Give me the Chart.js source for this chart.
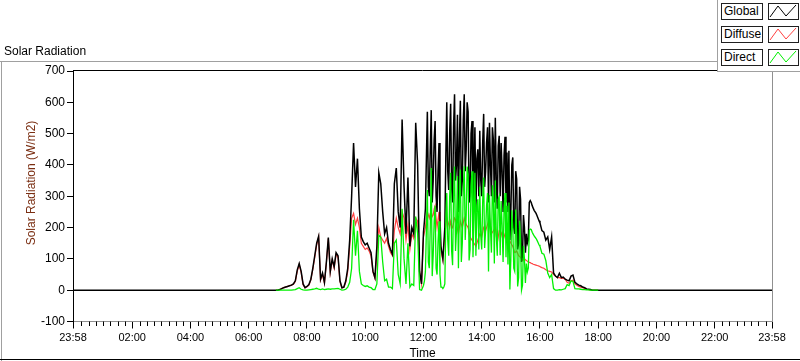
<!DOCTYPE html>
<html>
<head>
<meta charset="utf-8">
<script src="https://cdn.jsdelivr.net/npm/chart.js@4/dist/chart.umd.min.js"></script>
<style>
  html, body { margin:0; padding:0; background:#fff; }
  #wrap { position:relative; width:800px; height:361px; overflow:hidden; background:#fff; font-family:"Liberation Sans", Arial, sans-serif; }
  #c { position:absolute; left:0; top:0; }
  .abs { position:absolute; }
  .hline { position:absolute; height:1px; }
  .vline { position:absolute; width:1px; }
  #title { left:4px; top:44px; font-size:12px; line-height:14px; color:#000; white-space:nowrap; }
  #ytitle { left:-69px; top:176px; width:200px; text-align:center; font-size:12px; line-height:14px; color:#7a2e12; transform:rotate(-90deg); transform-origin:100px 7px; white-space:nowrap; }
  #legend { left:717px; top:0; width:83px; height:72px; background:#fff; border-left:1px solid #a0a0a0; border-bottom:1px solid #a0a0a0; box-sizing:border-box; }
  .lname { position:absolute; left:3px; width:42px; height:17px; border:1px solid #202020; box-sizing:border-box; font-size:12px; line-height:15px; padding-left:2px; color:#000; white-space:nowrap; background:#fff; }
  .lsample { position:absolute; left:50px; width:31px; height:17px; border:1px solid #202020; box-sizing:border-box; background:#fff; }
  .lsample svg { position:absolute; left:0; top:0; }
</style>
</head>
<body>
<div id="wrap">
  <canvas id="c" width="800" height="361"></canvas>
  <div class="hline" style="left:0;top:61px;width:717px;background:#a0a0a0"></div>
  <div class="vline" style="left:1px;top:61px;height:300px;background:#a0a0a0"></div>
  <div class="hline" style="left:0;top:359px;width:800px;background:#000"></div>
  <div id="title" class="abs">Solar Radiation</div>
  <div id="ytitle" class="abs">Solar Radiation (W/m2)</div>
  <div id="legend" class="abs"></div>
</div>
<script>
// ---------------- DATA ----------------
const seriesNames = ["Global", "Diffuse", "Direct"];
const seriesColors = ["#000000", "#ff4040", "#00f000"];
// sampling: [start minute of day, step minutes, count]
// 06:56-11:56 every 4 min, 12:00-15:58 every 2 min, 16:00-18:00 every 4 min
const sampleSegments = [[416, 4, 76], [720, 2, 120], [960, 4, 31]];

const globalW = [
  // 06:56 - 11:56
  0,0,2,5,8,10,12,14,16,20,
  30,65,85,60,20,8,12,18,35,70,
  110,150,172,35,55,25,90,168,60,100,
  75,120,110,30,8,10,30,70,160,300,
  470,330,420,260,170,155,145,150,135,120,
  60,40,140,375,340,250,180,200,150,130,
  115,340,390,250,200,545,330,180,360,140,
  200,180,535,400,60,20,
  // 12:00 - 15:58
  185,220,260,420,570,330,300,450,575,280,
  350,480,540,300,250,380,470,230,140,120,
  100,150,200,420,600,380,320,500,595,330,
  280,520,626,350,400,560,250,480,605,300,
  350,540,626,380,450,600,570,280,300,500,
  540,260,380,520,250,420,450,300,509,350,
  300,470,563,330,380,470,520,280,535,400,
  300,520,480,280,551,350,260,460,493,300,
  470,380,250,430,490,280,440,250,445,160,
  250,400,424,200,180,380,355,130,150,330,
  290,90,110,240,200,120,180,150,160,280,
  286,280,270,262,255,250,245,238,230,222,
  // 16:00 - 18:00
  215,190,185,160,
  170,130,170,55,45,40,54,40,42,35,
  32,30,45,48,25,20,16,14,10,8,
  4,3,2,0,0,0,0
];
const diffuseW = [
  0,0,2,5,8,10,12,14,16,19,
  28,60,82,57,17,7,11,16,33,66,
  105,145,170,32,50,22,86,165,56,96,
  70,115,105,27,7,9,26,60,140,230,
  245,210,230,200,150,140,130,135,125,110,
  58,38,120,200,170,160,150,165,140,120,
  110,190,230,200,180,250,230,160,210,130,
  180,165,230,220,58,20,
  170,185,200,230,250,240,230,245,250,235,
  240,260,270,230,200,225,250,180,130,110,
  95,140,180,205,230,220,210,200,220,205,
  200,215,230,225,210,195,180,200,220,210,
  200,215,230,220,210,205,200,185,170,165,
  160,155,150,145,140,150,160,170,180,175,
  170,185,200,195,190,200,210,220,230,205,
  180,185,190,195,200,175,150,170,190,188,
  185,172,160,170,180,175,170,168,165,158,
  150,145,140,130,120,122,125,118,110,108,
  105,100,95,98,100,97,95,92,90,89,
  88,86,85,83,82,81,80,79,78,77,
  75,72,70,65,
  62,60,58,50,45,40,40,38,38,35,
  25,22,30,32,20,16,12,10,8,6,
  3,2,1,0,0,0,0
];
const directW = [
  0,0,0,0,0,0,0,0,0,1,
  2,5,8,3,1,0,0,1,2,3,
  4,6,3,2,4,2,3,4,3,4,
  4,5,6,3,0,1,3,10,25,70,
  225,110,190,60,20,15,12,14,10,8,
  2,2,20,175,170,90,30,35,10,10,
  5,150,160,50,20,260,100,20,150,10,
  20,15,235,180,2,0,
  15,30,60,190,320,90,70,200,390,45,
  110,220,270,70,50,155,220,50,10,10,
  5,10,20,215,310,160,110,300,375,125,
  80,305,395,125,190,365,70,280,385,90,
  150,325,396,160,240,395,370,95,130,335,
  380,105,230,375,110,270,290,130,330,175,
  130,285,360,135,190,270,310,60,305,195,
  120,335,290,85,350,175,110,290,300,112,
  285,208,90,260,310,105,270,82,280,2,
  100,255,200,70,60,258,180,12,40,222,
  160,0,15,142,100,23,85,58,70,191,
  195,194,185,179,173,169,165,159,152,145,
  140,118,115,95,
  55,40,50,5,0,0,2,1,3,5,
  18,15,30,28,5,4,4,3,2,2,
  1,1,0,0,0,0,0
];
const axisMinH = -2/60;        // 23:58 previous day
const axisMaxH = 24 - 2/60;    // 23:58
const majorTickHours = [2,4,6,8,10,12,14,16,18,20,22];
const yMin = -100, yMax = 700, yStep = 100;

// ---------------- BUILD ----------------
const sampleHours = [];
sampleSegments.forEach(([s, st, n]) => { for (let k = 0; k < n; k++) sampleHours.push((s + k*st)/60); });
function toPoints(arr){ return arr.map((v,i)=>({x:sampleHours[i], y:v})); }
const globalPts = [{x:axisMinH,y:0}].concat(toPoints(globalW), [{x:axisMaxH,y:0}]);
const diffusePts = toPoints(diffuseW);
const directPts = toPoints(directW);

function fmtHM(h){
  let m = Math.round(h*60);
  if (m < 0) m += 1440;
  const hh = Math.floor(m/60) % 24, mm = m % 60;
  return String(hh).padStart(2,'0') + ':' + String(mm).padStart(2,'0');
}

const framePlugin = {
  id:'frame',
  afterDraw(chart){
    const {ctx, chartArea:a, scales} = chart;
    const x = scales.x;
    ctx.save();
    ctx.lineWidth = 1;
    ctx.strokeStyle = '#000';
    ctx.beginPath(); ctx.moveTo(a.left, Math.round(a.top)-0.5); ctx.lineTo(a.right, Math.round(a.top)-0.5); ctx.stroke();
    ctx.strokeStyle = '#909090';
    ctx.beginPath(); ctx.moveTo(Math.round(a.right)+0.5, a.top); ctx.lineTo(Math.round(a.right)+0.5, a.bottom); ctx.stroke();
    ctx.strokeStyle = '#000';
    ctx.beginPath();
    for (let m = 15; m < 1440; m += 15){
      if (m % 120 === 0) continue;
      const px = Math.round(x.getPixelForValue(m/60)) + 0.5;
      ctx.moveTo(px, a.bottom); ctx.lineTo(px, a.bottom + 4.5);
    }
    ctx.stroke();
    ctx.restore();
  }
};

const pts = [globalPts, diffusePts, directPts];
const drawOrder = [2, 3, 1]; // Direct on top, then Global, Diffuse underneath
const lineWidths = [1.5, 1.2, 1.3];
new Chart(document.getElementById('c'), {
  type:'line',
  data:{
    datasets: seriesNames.map((n,i)=>({
      label:n, data:pts[i], borderColor:seriesColors[i], backgroundColor:seriesColors[i],
      borderWidth:lineWidths[i], pointRadius:0, tension:0, fill:false, order:drawOrder[i]
    }))
  },
  options:{
    responsive:false, animation:false, devicePixelRatio:1,
    layout:{ padding:{ left:0, right:28, top:71, bottom:0 } },
    plugins:{ legend:{display:false}, tooltip:{enabled:false}, title:{display:false} },
    scales:{
      x:{
        type:'linear', min:axisMinH, max:axisMaxH,
        afterBuildTicks(s){ s.ticks = [axisMinH].concat(majorTickHours, [axisMaxH]).map(v=>({value:v})); },
        afterFit(s){ s.height = 39.5; },
        ticks:{ autoSkip:false, maxRotation:0, minRotation:0, padding:3, color:'#000',
          font:{family:'"Liberation Sans", Arial, sans-serif', size:11},
          callback:(v)=>fmtHM(v) },
        grid:{ drawOnChartArea:false, drawTicks:true, tickLength:7, tickColor:'#000' },
        border:{ display:true, color:'#909090', width:1 },
        title:{ display:true, text:'Time', color:'#000', padding:{top:0,bottom:0},
          font:{family:'"Liberation Sans", Arial, sans-serif', size:12} }
      },
      y:{
        type:'linear', min:yMin, max:yMax,
        afterFit(s){ s.width = 73; },
        ticks:{ stepSize:yStep, padding:2, color:'#000',
          font:{family:'"Liberation Sans", Arial, sans-serif', size:12} },
        grid:{ drawOnChartArea:false, drawTicks:true, tickLength:6, tickColor:'#000' },
        border:{ display:true, color:'#000', width:1 }
      }
    }
  },
  plugins:[framePlugin]
});

// ---------------- LEGEND (HTML) ----------------
const legend = document.getElementById('legend');
const legendTops = [3, 26, 49];
seriesNames.forEach((n,i)=>{
  const t = document.createElement('div');
  t.className = 'lname'; t.style.top = legendTops[i] + 'px'; t.textContent = n;
  legend.appendChild(t);
  const s = document.createElement('div');
  s.className = 'lsample'; s.style.top = legendTops[i] + 'px';
  s.innerHTML = '<svg width="29" height="15" viewBox="0 0 29 15"><polyline points="1,13 9,2 17,12 27,1" fill="none" stroke="' + seriesColors[i] + '" stroke-width="1"/></svg>';
  legend.appendChild(s);
});
</script>
</body>
</html>
